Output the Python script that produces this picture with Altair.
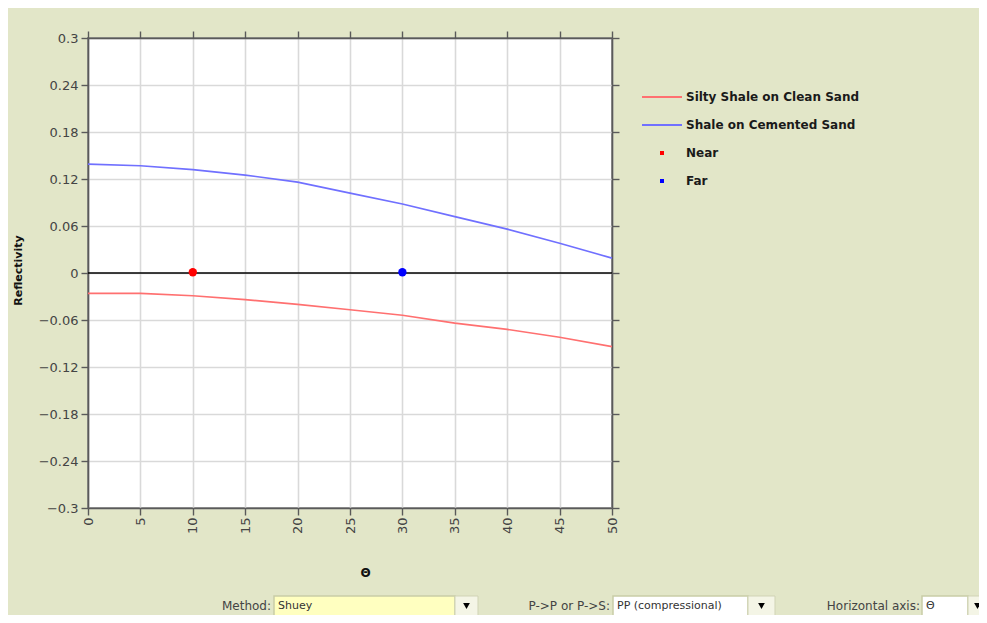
import altair as alt
import pandas as pd

# ---------------- data ----------------
theta = [0, 5, 10, 15, 20, 25, 30, 35, 40, 45, 50]
silty_shale_clean_sand = [-0.026, -0.026, -0.029, -0.034, -0.040, -0.047,
                          -0.054, -0.064, -0.072, -0.082, -0.094]
shale_cemented_sand = [0.139, 0.137, 0.132, 0.125, 0.116, 0.102,
                       0.088, 0.072, 0.056, 0.038, 0.019]
series_names = ["Silty Shale on Clean Sand", "Shale on Cemented Sand"]
marker_names = ["Near", "Far"]
marker_theta = [10, 30]
marker_refl = [0.001, 0.001]
x_ticks = [0, 5, 10, 15, 20, 25, 30, 35, 40, 45, 50]
y_ticks = [-0.3, -0.24, -0.18, -0.12, -0.06, 0, 0.06, 0.12, 0.18, 0.24, 0.3]
control_labels = ["Method:", "P->P or P->S:", "Horizontal axis:"]
control_values = ["Shuey", "PP (compressional)", "Θ"]

# ---------------- styles ----------------
series_colors = ["#FF7070", "#7070FF"]
marker_colors = ["#FF0000", "#0000FF"]
BG = "#E2E6C8"
FONT = "DejaVu Sans"
W, H = 524, 470
PAD_L, PAD_T = 80, 30
TOTAL_W, TOTAL_H = 971, 607

lines_df = pd.DataFrame({
    "theta": theta + theta,
    "refl": silty_shale_clean_sand + shale_cemented_sand,
    "series": [series_names[0]] * len(theta) + [series_names[1]] * len(theta),
})
markers_df = pd.DataFrame({"theta": marker_theta, "refl": marker_refl, "name": marker_names})
one = pd.DataFrame({"k": [0]})

x_scale = alt.Scale(domain=[0, 50], nice=False, zero=False)
y_scale = alt.Scale(domain=[-0.3, 0.3], nice=False, zero=False)

axis_common = dict(
    labelFont=FONT, labelFontSize=13, labelColor="#444444",
    domainColor="#5a5a5a", domainWidth=1.6,
    tickColor="#5a5a5a", tickWidth=1.4, tickSize=7,
    gridColor="#D9D9D9", gridWidth=1.6,
    titleFont=FONT, titleFontWeight="bold", titleColor="#111111",
)
axis_plain = {k: v for k, v in axis_common.items() if not k.startswith("title")}

lines = alt.Chart(lines_df).mark_line(strokeWidth=1.6).encode(
    x=alt.X("theta:Q", scale=x_scale,
            axis=alt.Axis(orient="bottom", values=x_ticks, labelAngle=-90,
                          labelAlign="right", labelBaseline="middle",
                          labelPadding=2, title="Θ", titleFontSize=12,
                          titleX=277, titleY=64, titleBaseline="middle",
                          grid=True, **axis_common)),
    y=alt.Y("refl:Q", scale=y_scale,
            axis=alt.Axis(orient="left", values=y_ticks, format=".2~f",
                          labelPadding=3, title="Reflectivity", titleFontSize=11,
                          titleX=-70, titleY=232, titleAngle=-90,
                          titleAlign="center", titleBaseline="middle",
                          grid=True, **axis_common)),
    color=alt.Color("series:N", scale=alt.Scale(domain=series_names, range=series_colors),
                    legend=None),
)

zero = alt.Chart(one).mark_rule(color="#000000", strokeWidth=1.6).encode(
    y=alt.YDatum(0, scale=y_scale, axis=None),
)

points = alt.Chart(markers_df).mark_circle(size=70, opacity=1).encode(
    x=alt.X("theta:Q", scale=x_scale,
            axis=alt.Axis(orient="top", values=x_ticks, labels=False, grid=False,
                          title=None, **axis_plain)),
    y=alt.Y("refl:Q", scale=y_scale,
            axis=alt.Axis(orient="right", values=y_ticks, labels=False, grid=False,
                          title=None, **axis_plain)),
    color=alt.Color("name:N", scale=alt.Scale(domain=marker_names, range=marker_colors),
                    legend=None),
)

# ---------------- manual legend ----------------
legend_layers = []
LEG_Y0, LEG_DY = 59, 28
for i, name in enumerate(series_names):
    yy = LEG_Y0 + LEG_DY * i
    legend_layers.append(
        alt.Chart(one).mark_rule(color=series_colors[i], strokeWidth=1.8).encode(
            x=alt.value(554), x2=alt.value(594), y=alt.value(yy)))
    legend_layers.append(
        alt.Chart(one).mark_text(text=name, align="left", baseline="middle", font=FONT,
                                 fontSize=12, fontWeight="bold", color="#1a1a1a").encode(
            x=alt.value(598), y=alt.value(yy)))
for j, name in enumerate(marker_names):
    yy = LEG_Y0 + LEG_DY * (j + 2)
    legend_layers.append(
        alt.Chart(one).mark_square(size=16, color=marker_colors[j], opacity=1).encode(
            x=alt.value(574), y=alt.value(yy)))
    legend_layers.append(
        alt.Chart(one).mark_text(text=name, align="left", baseline="middle", font=FONT,
                                 fontSize=12, fontWeight="bold", color="#1a1a1a").encode(
            x=alt.value(598), y=alt.value(yy)))

# ---------------- bottom controls ----------------
ctrl_layers = []
CY0, CY1, CYM = 558, 582, 568
ctrl_specs = [
    # label right x, box x0, box x1, button x1, box fill
    (183, 186, 367, 390, "#FFFFC0"),
    (522, 525, 660, 687, "#FFFFFF"),
    (832, 834, 880, 899, "#FFFFFF"),
]
for i, (lx, bx0, bx1, bx2, fill) in enumerate(ctrl_specs):
    ctrl_layers.append(
        alt.Chart(one).mark_text(text=control_labels[i], align="right", baseline="middle",
                                 font=FONT, fontSize=12, color="#444444").encode(
            x=alt.value(lx), y=alt.value(CYM)))
    ctrl_layers.append(
        alt.Chart(one).mark_rect(fill=fill, stroke="#C9CDA6", strokeWidth=1.5).encode(
            x=alt.value(bx0), x2=alt.value(bx1), y=alt.value(CY0), y2=alt.value(CY1)))
    ctrl_layers.append(
        alt.Chart(one).mark_rect(fill="#F4F5E6", stroke="#D0D3B5", strokeWidth=1).encode(
            x=alt.value(bx1), x2=alt.value(bx2), y=alt.value(CY0), y2=alt.value(CY1)))
    ctrl_layers.append(
        alt.Chart(one).mark_point(shape="triangle-down", filled=True, size=45,
                                  color="#000000", opacity=1).encode(
            x=alt.value((bx1 + bx2) / 2), y=alt.value(CYM)))
    ctrl_layers.append(
        alt.Chart(one).mark_text(text=control_values[i], align="left", baseline="middle",
                                 font=FONT, fontSize=11, color="#333333").encode(
            x=alt.value(bx0 + 4), y=alt.value(CYM)))

chart = alt.layer(lines, zero, points, *legend_layers, *ctrl_layers).resolve_scale(
    color="independent"
).resolve_axis(
    x="independent", y="independent"
).properties(
    width=W, height=H,
    autosize=alt.AutoSizeParams(type="none"),
    padding={"left": PAD_L, "top": PAD_T,
             "right": TOTAL_W - PAD_L - W, "bottom": TOTAL_H - PAD_T - H},
    background=BG,
).configure_view(
    fill="#FFFFFF", stroke="#5a5a5a", strokeWidth=1.6
)

chart.save("out.html", embed_options={"renderer": "svg", "actions": False})
